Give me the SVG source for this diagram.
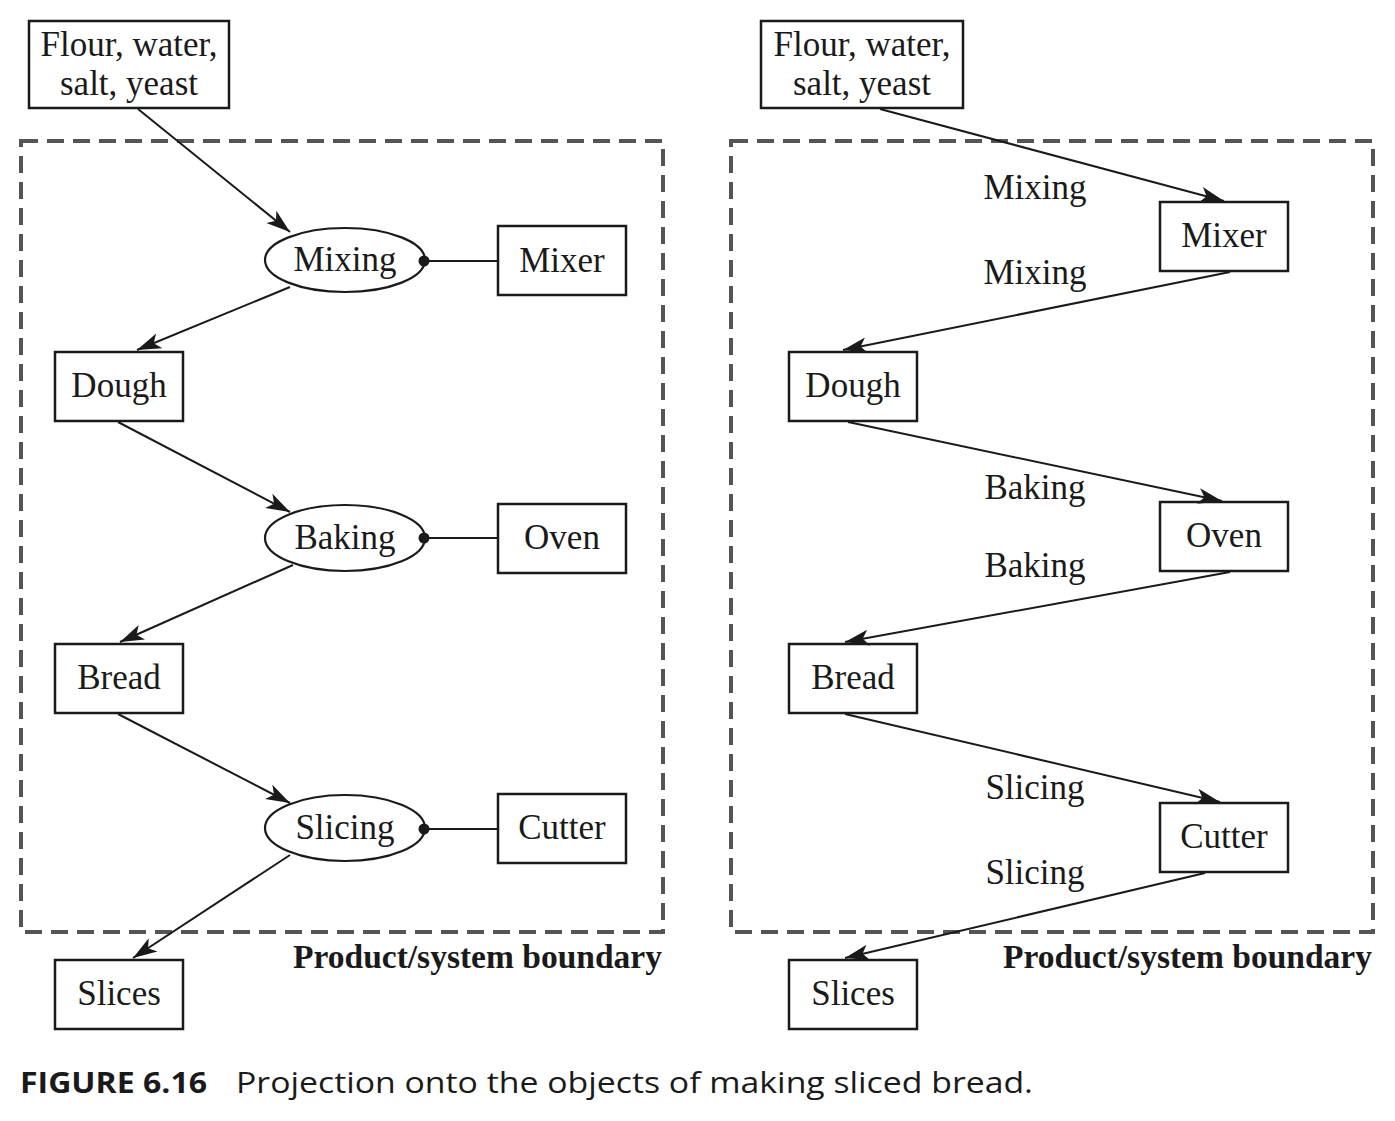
<svg xmlns="http://www.w3.org/2000/svg" width="1395" height="1121" viewBox="0 0 1395 1121">
<style>
.box{fill:#fff;stroke:#1a1a1a;stroke-width:2.5}
.ell{fill:#fff;stroke:#1a1a1a;stroke-width:2.2}
.t{font-family:"Liberation Serif","Times New Roman",serif;font-size:35px;fill:#1a1a1a;text-anchor:middle}
.b{font-family:"Liberation Serif","Times New Roman",serif;font-size:33px;font-weight:bold;fill:#1a1a1a;text-anchor:end}
.bound{fill:none;stroke:#555;stroke-width:4;stroke-dasharray:17 9}
.c{stroke:#1a1a1a;stroke-width:2;fill:none}
.arr{marker-end:url(#ah)}
.cap{font-family:"Open Sans","Noto Sans","Liberation Sans",sans-serif;font-size:29px;fill:#1a1a1a}
</style>
<defs>
<marker id="ah" markerUnits="userSpaceOnUse" markerWidth="26" markerHeight="18" refX="24" refY="9" orient="auto">
<path d="M0,1 L24,9 L0,17 L6,9 z" fill="#1a1a1a"/>
</marker>
</defs>
<rect width="1395" height="1121" fill="#fff"/>

<g id="boundaries">
<rect class="bound" x="21" y="141" width="642" height="791"/>
<rect class="bound" x="731" y="141" width="642" height="791"/>
<text class="b" x="662" y="968" textLength="369" lengthAdjust="spacingAndGlyphs">Product/system boundary</text>
<text class="b" x="1372" y="968" textLength="369" lengthAdjust="spacingAndGlyphs">Product/system boundary</text>
</g>

<g id="L-flour"><rect class="box" x="29" y="21" width="200" height="87"/><text class="t" x="129" y="56">Flour, water,</text><text class="t" x="129" y="95">salt, yeast</text></g>
<g id="L-mixing"><ellipse class="ell" cx="345" cy="260" rx="80" ry="32"/><text class="t" x="345" y="271">Mixing</text></g>
<g id="L-mixer"><rect class="box" x="498" y="226" width="128" height="69"/><text class="t" x="562" y="272">Mixer</text></g>
<g id="L-dough"><rect class="box" x="55" y="352" width="128" height="69"/><text class="t" x="119" y="397">Dough</text></g>
<g id="L-baking"><ellipse class="ell" cx="345" cy="538" rx="80" ry="33"/><text class="t" x="345" y="549">Baking</text></g>
<g id="L-oven"><rect class="box" x="498" y="504" width="128" height="69"/><text class="t" x="562" y="549">Oven</text></g>
<g id="L-bread"><rect class="box" x="55" y="644" width="128" height="69"/><text class="t" x="119" y="689">Bread</text></g>
<g id="L-slicing"><ellipse class="ell" cx="345" cy="828" rx="80" ry="33"/><text class="t" x="345" y="839">Slicing</text></g>
<g id="L-cutter"><rect class="box" x="498" y="794" width="128" height="69"/><text class="t" x="562" y="839">Cutter</text></g>
<g id="L-slices"><rect class="box" x="55" y="960" width="128" height="69"/><text class="t" x="119" y="1005">Slices</text></g>

<g id="R-flour"><rect class="box" x="761" y="21" width="202" height="87"/><text class="t" x="862" y="56">Flour, water,</text><text class="t" x="862" y="95">salt, yeast</text></g>
<g id="R-mixer"><rect class="box" x="1160" y="202" width="128" height="69"/><text class="t" x="1224" y="247">Mixer</text></g>
<g id="R-dough"><rect class="box" x="789" y="352" width="128" height="69"/><text class="t" x="853" y="397">Dough</text></g>
<g id="R-oven"><rect class="box" x="1160" y="502" width="128" height="69"/><text class="t" x="1224" y="547">Oven</text></g>
<g id="R-bread"><rect class="box" x="789" y="644" width="128" height="69"/><text class="t" x="853" y="689">Bread</text></g>
<g id="R-cutter"><rect class="box" x="1160" y="803" width="128" height="69"/><text class="t" x="1224" y="848">Cutter</text></g>
<g id="R-slices"><rect class="box" x="789" y="960" width="128" height="69"/><text class="t" x="853" y="1005">Slices</text></g>

<g id="connectors">
<line class="c arr" x1="138" y1="109" x2="290" y2="232"/>
<line class="c arr" x1="290" y1="287" x2="137" y2="350"/>
<line class="c arr" x1="118" y1="422" x2="290" y2="512"/>
<line class="c arr" x1="293" y1="565" x2="120" y2="642"/>
<line class="c arr" x1="118" y1="714" x2="290" y2="803"/>
<line class="c arr" x1="290" y1="855" x2="133" y2="958"/>
<line class="c" x1="424" y1="261" x2="498" y2="261"/>
<circle cx="424" cy="261" r="5.5" fill="#1a1a1a"/>
<line class="c" x1="424" y1="538" x2="498" y2="538" stroke-width="2.6"/>
<circle cx="424" cy="538" r="5.5" fill="#1a1a1a"/>
<line class="c" x1="424" y1="829" x2="498" y2="829"/>
<circle cx="424" cy="829" r="5.5" fill="#1a1a1a"/>

<line class="c arr" x1="880" y1="109" x2="1224" y2="201"/>
<line class="c arr" x1="1230" y1="272" x2="843" y2="350"/>
<line class="c arr" x1="848" y1="422" x2="1222" y2="501"/>
<line class="c arr" x1="1230" y1="572" x2="845" y2="642"/>
<line class="c arr" x1="845" y1="714" x2="1220" y2="802"/>
<line class="c arr" x1="1205" y1="873" x2="845" y2="958"/>
<text class="t" x="1035" y="199">Mixing</text>
<text class="t" x="1035" y="284">Mixing</text>
<text class="t" x="1035" y="499">Baking</text>
<text class="t" x="1035" y="577">Baking</text>
<text class="t" x="1035" y="799">Slicing</text>
<text class="t" x="1035" y="884">Slicing</text>
</g>

<g id="caption">
<text class="cap" x="20" y="1093" font-weight="bold" textLength="187" lengthAdjust="spacingAndGlyphs">FIGURE 6.16</text>
<text class="cap" x="236" y="1093" textLength="797" lengthAdjust="spacingAndGlyphs">Projection onto the objects of making sliced bread.</text>
</g>
</svg>
